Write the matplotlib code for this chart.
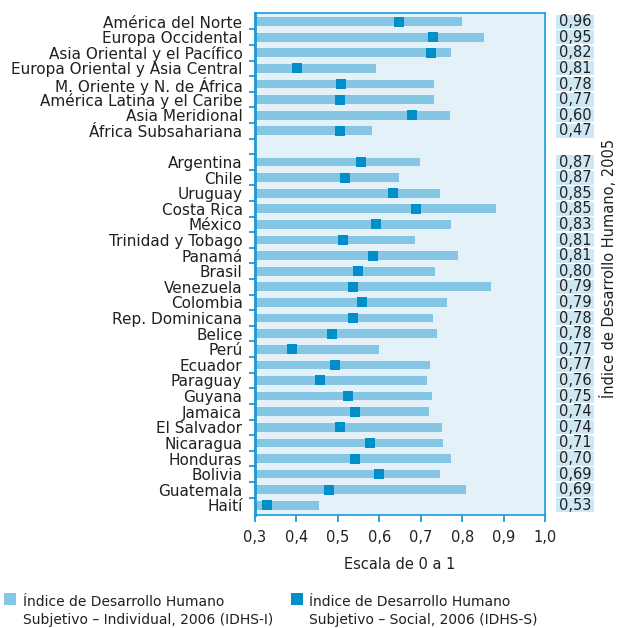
import matplotlib
matplotlib.use("Agg")
import matplotlib.pyplot as plt
from matplotlib.patches import Rectangle
from matplotlib.transforms import blended_transform_factory
import numpy as np

plt.rcParams['font.family'] = ['DejaVu Sans']

regions = ["América del Norte", "Europa Occidental", "Asia Oriental y el Pacífico",
           "Europa Oriental y Asia Central", "M. Oriente y N. de África",
           "América Latina y el Caribe", "Asia Meridional", "África Subsahariana"]
regions_idhs_i = [0.80, 0.853, 0.773, 0.592, 0.732, 0.732, 0.771, 0.582]
regions_idhs_s = [0.648, 0.729, 0.726, 0.402, 0.508, 0.504, 0.680, 0.506]
regions_idh = ["0,96", "0,95", "0,82", "0,81", "0,78", "0,77", "0,60", "0,47"]

countries = ["Argentina", "Chile", "Uruguay", "Costa Rica", "México", "Trinidad y Tobago",
             "Panamá", "Brasil", "Venezuela", "Colombia", "Rep. Dominicana", "Belice",
             "Perú", "Ecuador", "Paraguay", "Guyana", "Jamaica", "El Salvador",
             "Nicaragua", "Honduras", "Bolivia", "Guatemala", "Haití"]
countries_idhs_i = [0.698, 0.648, 0.747, 0.882, 0.773, 0.686, 0.790, 0.734, 0.870,
                    0.763, 0.730, 0.739, 0.599, 0.722, 0.715, 0.727, 0.720, 0.751,
                    0.754, 0.773, 0.747, 0.809, 0.454]
countries_idhs_s = [0.557, 0.518, 0.634, 0.689, 0.593, 0.513, 0.586, 0.549, 0.537,
                    0.559, 0.537, 0.487, 0.390, 0.494, 0.458, 0.525, 0.542, 0.506,
                    0.578, 0.542, 0.600, 0.479, 0.330]
countries_idh = ["0,87", "0,87", "0,85", "0,85", "0,83", "0,81", "0,81", "0,80", "0,79",
                 "0,79", "0,78", "0,78", "0,77", "0,77", "0,76", "0,75", "0,74", "0,74",
                 "0,71", "0,70", "0,69", "0,69", "0,53"]

xticks = [0.3, 0.4, 0.5, 0.6, 0.7, 0.8, 0.9, 1.0]
xticklabels = ["0,3", "0,4", "0,5", "0,6", "0,7", "0,8", "0,9", "1,0"]

LIGHT = "#85c6e4"
DARK = "#008fc8"
BG = "#e5f1f8"
SPINE = "#1a9ad6"
BOX = "#cde7f4"
TXT = "#231f20"

labels = regions + countries
idhs_i = regions_idhs_i + countries_idhs_i
idhs_s = regions_idhs_s + countries_idhs_s
idh = regions_idh + countries_idh
ypos = list(range(len(regions))) + [len(regions) + 1 + i for i in range(len(countries))]

fig = plt.figure(figsize=(6.19, 6.28), dpi=100)
ax = fig.add_axes([255/619, 1 - 514.7/628, 290/619, (514.7 - 13)/628])
ax.set_facecolor(BG)

base = 0.3
ax.barh(ypos, [v - base for v in idhs_i], left=base, height=0.56, color=LIGHT, zorder=2)
ax.scatter(idhs_s, ypos, marker='s', s=42, color=DARK, zorder=3, linewidths=0)

ax.set_xlim(0.3, 1.0)
ax.set_ylim(31.6, -0.55)

ax.set_xticks(xticks)
ax.set_xticklabels(xticklabels, fontsize=10.5, color=TXT)
ax.tick_params(axis='x', direction='out', length=5, width=1.3, color=SPINE, pad=6)

ax.set_yticks(ypos)
ax.set_yticklabels(labels, fontsize=11, color=TXT)
ax.tick_params(axis='y', which='major', length=0, pad=9)
ax.set_yticks(np.arange(0.5, 31, 1.0), minor=True)
ax.tick_params(axis='y', which='minor', direction='out', length=4.5, width=1.3, color=SPINE)

for side, sp in ax.spines.items():
    sp.set_color(SPINE)
    sp.set_linewidth(1.2)
ax.spines['left'].set_linewidth(2)

ax.set_xlabel("Escala de 0 a 1", fontsize=10.5, color=TXT, labelpad=9)

trans = blended_transform_factory(ax.transAxes, ax.transData)
x0 = (556 - 255) / 290
x1 = (594 - 255) / 290
for y, t in zip(ypos, idh):
    ax.add_patch(Rectangle((x0, y - 0.45), x1 - x0, 0.9, transform=trans,
                           facecolor=BOX, edgecolor='none', clip_on=False))
    ax.text((x0 + x1) / 2, y, t, transform=trans, ha='center', va='center',
            fontsize=10.5, color=TXT, clip_on=False)

fig.text(608/619, 1 - 268/628, "Índice de Desarrollo Humano, 2005", rotation=90,
         ha='center', va='center', fontsize=10.5, color=TXT)

# legend
fig.patches.append(Rectangle((4/619, 1 - 605/628), 12/619, 12/628, transform=fig.transFigure,
                             facecolor=LIGHT, edgecolor='none'))
fig.text(23/619, 1 - 611/628, "Índice de Desarrollo Humano\nSubjetivo – Individual, 2006 (IDHS-I)",
         ha='left', va='center', fontsize=10, color=TXT, linespacing=1.3)
fig.patches.append(Rectangle((291/619, 1 - 605/628), 12/619, 12/628, transform=fig.transFigure,
                             facecolor=DARK, edgecolor='none'))
fig.text(309/619, 1 - 611/628, "Índice de Desarrollo Humano\nSubjetivo – Social, 2006 (IDHS-S)",
         ha='left', va='center', fontsize=10, color=TXT, linespacing=1.3)

fig.savefig("out.png", dpi=100)
